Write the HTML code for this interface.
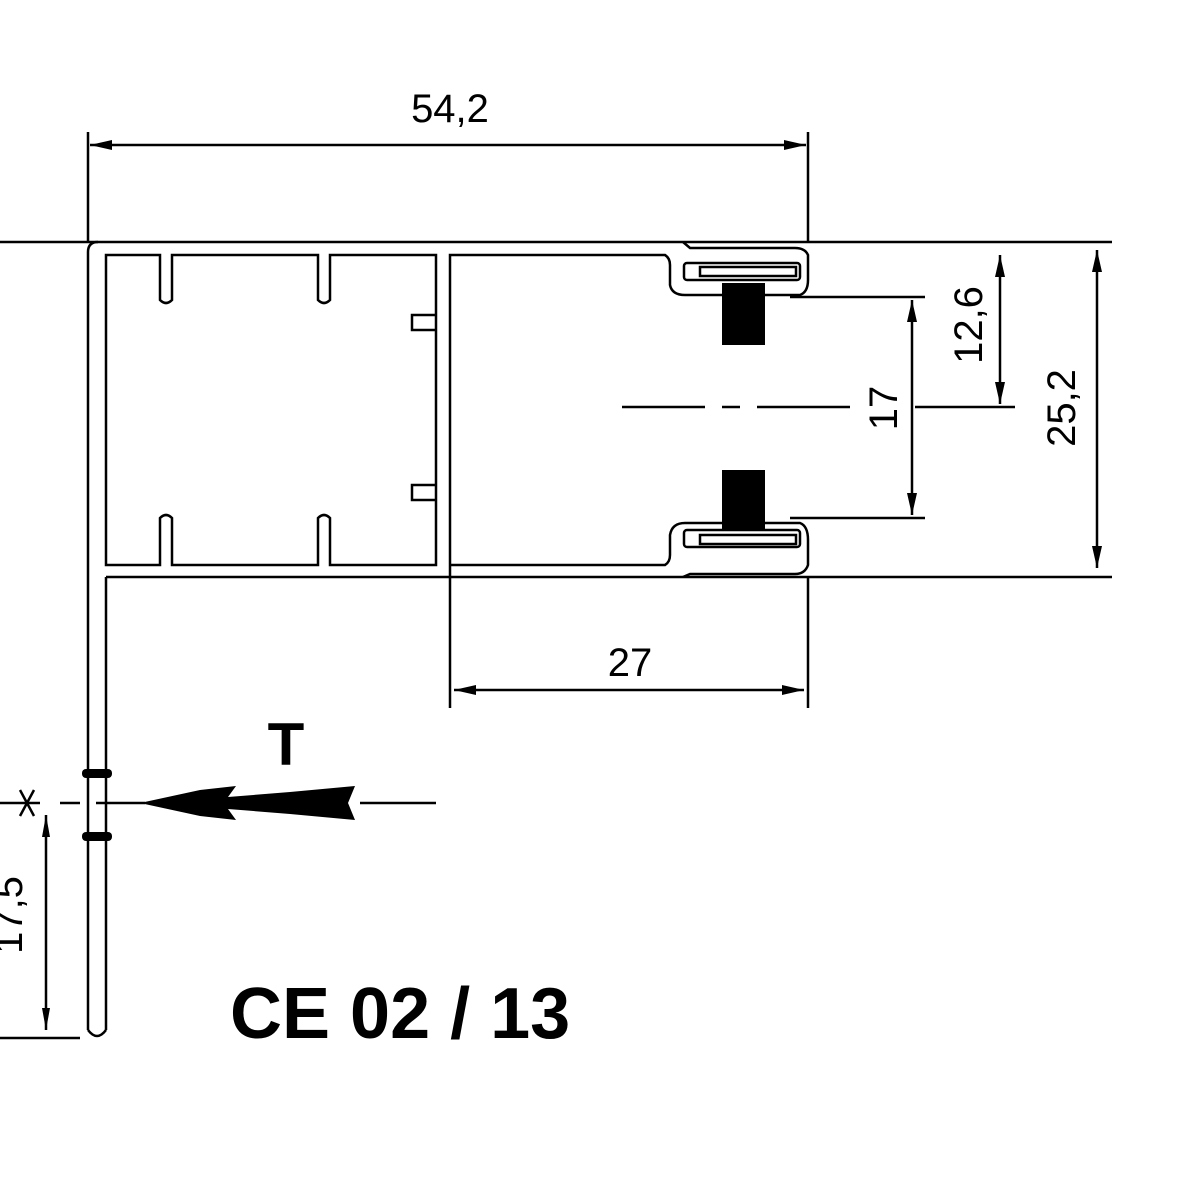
<!DOCTYPE html>
<html><head><meta charset="utf-8"><style>html,body{margin:0;padding:0;background:#fff}svg{display:block}</style></head>
<body>
<svg width="1200" height="1200" viewBox="0 0 1200 1200" xmlns="http://www.w3.org/2000/svg" font-family="Liberation Sans, sans-serif">
<g stroke="#000" fill="none" stroke-width="2.5">
<line x1="0" y1="242" x2="1112" y2="242"/>
<line x1="106" y1="577" x2="1112" y2="577"/>
<path d="M88 1030 V252 Q88 242 98 242"/>
<path d="M106 1030 V577"/>
<path d="M88 1030 Q97 1042 106 1030"/>
<path d="M106 255 H160 V300 Q166 306 172 300 V255 H318 V300 Q324 306 330 300 V255 H436 V565 H330 V518 Q324 512 318 518 V565 H172 V518 Q166 512 160 518 V565 H106 Z"/>
<path d="M436 315 H412 V330 H436"/>
<path d="M436 485 H412 V500 H436"/>
<path d="M450 577 V255 H665 Q670 258 670 265 V285 Q672 295 685 295 H800 Q808 292 808 280 V255 Q805 248 795 248 H690 L683 242"/>
<path d="M450 565 H665 Q670 562 670 555 V535 Q672 523 685 523 H800 Q808 526 808 540 V565 Q805 574 795 574 H690 L683 577"/>
<rect x="684" y="263" width="116" height="17" rx="3"/>
<rect x="700" y="267" width="96" height="9"/>
<rect x="684" y="530" width="116" height="17" rx="3"/>
<rect x="700" y="535" width="96" height="9"/>
<line x1="88" y1="132" x2="88" y2="242"/>
<line x1="808" y1="132" x2="808" y2="242"/>
<line x1="90" y1="145" x2="806" y2="145"/>
<line x1="790" y1="297" x2="925" y2="297"/>
<line x1="790" y1="518" x2="925" y2="518"/>
<line x1="912" y1="300" x2="912" y2="515"/>
<line x1="915" y1="407" x2="1015" y2="407"/>
<line x1="1000" y1="255" x2="1000" y2="404"/>
<line x1="1097" y1="250" x2="1097" y2="568"/>
<path d="M622 407 H705 M722 407 H740 M757 407 H850"/>
<line x1="450" y1="577" x2="450" y2="708"/>
<line x1="808" y1="577" x2="808" y2="708"/>
<line x1="454" y1="690" x2="804" y2="690"/>
<line x1="0" y1="1038" x2="80" y2="1038"/>
<line x1="46" y1="815" x2="46" y2="1030"/>
<path d="M0 803 H40 M60 803 H80 M96 803 H145 M360 803 H436"/>
<path d="M20 790 L34 816 M20 816 L34 790"/>
</g>
<g fill="#000">
<path d="M90 145 l22 -5 v10 z M806 145 l-22 -5 v10 z"/>
<path d="M912 300 l-5 22 h10 z M912 515 l-5 -22 h10 z"/>
<path d="M1000 255 l-5 22 h10 z M1000 404 l-5 -22 h10 z"/>
<path d="M1097 250 l-5 22 h10 z M1097 568 l-5 -22 h10 z"/>
<path d="M454 690 l22 -5 v10 z M804 690 l-22 -5 v10 z"/>
<path d="M46 815 l-4 22 h8 z M46 1030 l-4 -22 h8 z"/>
<path d="M722 283 H765 V345 H722 Z"/>
<path d="M722 470 H765 V530 H722 Z"/>
<path d="M140 803 L200 790 L236 786 L228 797 L290 792 L355 786 L348 803 L355 820 L290 814 L228 809 L236 820 L200 816 Z"/>
<rect x="82" y="769" width="30" height="9" rx="4"/>
<rect x="82" y="832" width="30" height="9" rx="4"/>
</g>
<g font-size="40" text-anchor="middle" fill="#000">
<text x="450" y="122">54,2</text>
<text x="630" y="676">27</text>
<text transform="translate(982 325) rotate(-90)">12,6</text>
<text transform="translate(897 408) rotate(-90)">17</text>
<text transform="translate(1075 408) rotate(-90)">25,2</text>
<text transform="translate(22 915) rotate(-90)">17,5</text>
</g>
<text x="286" y="765" font-size="60" font-weight="bold" text-anchor="middle">T</text>
<text x="230" y="1038" font-size="72" font-weight="bold">CE 02 / 13</text>
</svg>
</body></html>
